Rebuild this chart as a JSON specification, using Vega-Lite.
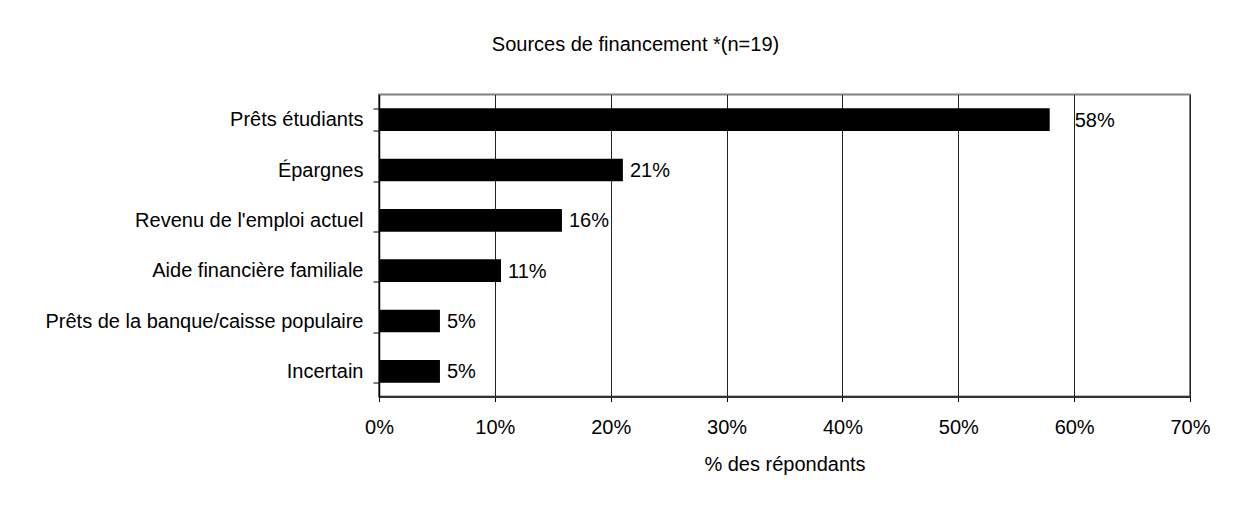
{
  "$schema": "https://vega.github.io/schema/vega-lite/v6.json",
  "autosize": {"type": "none"},
  "padding": {"left": 379, "top": 94.5, "right": 61, "bottom": 115.5},
  "width": 811,
  "height": 302,
  "background": "white",
  "title": {
    "text": "Sources de financement *(n=19)",
    "font": "Liberation Sans",
    "fontSize": 20,
    "fontWeight": "normal",
    "color": "#000000",
    "anchor": "middle",
    "frame": "group",
    "baseline": "alphabetic",
    "dx": -149,
    "offset": 14
  },
  "config": {
    "font": "Liberation Sans",
    "view": {"stroke": "#808080", "strokeWidth": 2}
  },
  "data": {
    "values": [
      {"source": "Prêts étudiants", "pct": 0.5789},
      {"source": "Épargnes", "pct": 0.2105},
      {"source": "Revenu de l'emploi actuel", "pct": 0.1579},
      {"source": "Aide financière familiale", "pct": 0.1053},
      {"source": "Prêts de la banque/caisse populaire", "pct": 0.0526},
      {"source": "Incertain", "pct": 0.0526}
    ]
  },
  "encoding": {
    "y": {
      "field": "source",
      "type": "nominal",
      "sort": null,
      "title": null,
      "scale": {"paddingInner": 0.55, "paddingOuter": 0.275},
      "axis": {
        "tickBand": "extent",
        "tickSize": 6,
        "tickColor": "#000000",
        "tickWidth": 1,
        "domainColor": "#000000",
        "domainWidth": 1.5,
        "labelFont": "Liberation Sans",
        "labelFontSize": 20,
        "labelColor": "#000000",
        "labelPadding": 10,
        "labelLimit": 400,
        "grid": false
      }
    },
    "x": {
      "field": "pct",
      "type": "quantitative",
      "title": "% des répondants",
      "scale": {"domain": [0, 0.7], "nice": false},
      "axis": {
        "values": [0, 0.1, 0.2, 0.3, 0.4, 0.5, 0.6, 0.7],
        "format": ".0%",
        "grid": true,
        "gridColor": "#222222",
        "gridWidth": 1,
        "tickSize": 5,
        "tickColor": "#000000",
        "domainColor": "#333333",
        "domainWidth": 2,
        "labelFont": "Liberation Sans",
        "labelFontSize": 20,
        "labelColor": "#000000",
        "labelPadding": 16,
        "labelFlush": false,
        "titleFont": "Liberation Sans",
        "titleFontSize": 20,
        "titleFontWeight": "normal",
        "titleColor": "#000000",
        "titlePadding": 17
      }
    }
  },
  "layer": [
    {
      "mark": {"type": "bar", "color": "#000000"}
    },
    {
      "transform": [{"filter": "datum.pct < 0.5"}],
      "mark": {"type": "text", "align": "left", "baseline": "middle", "dx": 7, "dy": 1, "font": "Liberation Sans", "fontSize": 20, "color": "#000000"},
      "encoding": {"text": {"field": "pct", "type": "quantitative", "format": ".0%"}}
    },
    {
      "transform": [{"filter": "datum.pct >= 0.5"}],
      "mark": {"type": "text", "align": "left", "baseline": "middle", "dx": 25, "dy": 1, "font": "Liberation Sans", "fontSize": 20, "color": "#000000"},
      "encoding": {"text": {"field": "pct", "type": "quantitative", "format": ".0%"}}
    }
  ]
}
